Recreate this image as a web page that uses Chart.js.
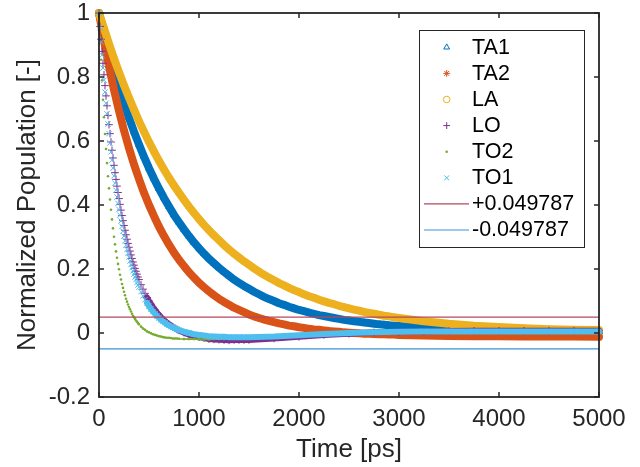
<!DOCTYPE html>
<html>
<head>
<meta charset="utf-8">
<script src="https://cdn.jsdelivr.net/npm/chart.js@4.4.1/dist/chart.umd.min.js"></script>
<style>
  html, body { margin: 0; padding: 0; background: #fff; }
  canvas { display: block; }
</style>
</head>
<body>
<canvas id="population" width="640" height="467"></canvas>
<script>
// time axis for the slow acoustic branches (ps)
const slowTimePs = [0,50,100,150,200,250,300,350,400,450,
  500,550,600,650,700,750,800,850,900,950,
  1000,1050,1100,1150,1200,1250,1300,1350,1400,1450,
  1500,1550,1600,1650,1700,1750,1800,1850,1900,1950,
  2000,2050,2100,2150,2200,2250,2300,2350,2400,2450,
  2500,2550,2600,2650,2700,2750,2800,2850,2900,2950,
  3000,3250,3500,3750,4000,4250,4500,4750,5000];

const ta1Pop = [1.000,0.939,0.878,0.822,0.769,0.719,0.672,0.629,0.589,0.551,
  0.515,0.482,0.451,0.422,0.395,0.369,0.346,0.324,0.303,0.283,
  0.265,0.248,0.232,0.218,0.204,0.191,0.179,0.167,0.157,0.147,
  0.138,0.129,0.121,0.113,0.106,0.100,0.093,0.088,0.082,0.077,
  0.072,0.068,0.064,0.060,0.056,0.053,0.050,0.047,0.044,0.041,
  0.039,0.037,0.035,0.033,0.031,0.029,0.027,0.026,0.024,0.023,
  0.022,0.017,0.013,0.011,0.009,0.007,0.006,0.006,0.005];

const ta2Pop = [1.000,0.913,0.833,0.760,0.694,0.633,0.578,0.527,0.481,0.438,
  0.400,0.365,0.332,0.303,0.276,0.251,0.229,0.209,0.190,0.173,
  0.157,0.143,0.130,0.118,0.107,0.097,0.088,0.079,0.072,0.065,
  0.058,0.052,0.047,0.042,0.038,0.034,0.030,0.027,0.023,0.021,
  0.018,0.016,0.013,0.011,0.010,0.008,0.006,0.005,0.004,0.002,
  0.001,0.000,-0.001,-0.002,-0.002,-0.003,-0.004,-0.004,-0.005,-0.005,
  -0.006,-0.008,-0.009,-0.010,-0.010,-0.011,-0.011,-0.011,-0.012];

const laPop = [1.000,0.952,0.904,0.858,0.815,0.774,0.735,0.698,0.662,0.629,
  0.597,0.567,0.538,0.511,0.485,0.461,0.438,0.416,0.395,0.375,
  0.356,0.338,0.321,0.305,0.290,0.275,0.261,0.248,0.236,0.224,
  0.213,0.202,0.192,0.182,0.173,0.165,0.156,0.149,0.141,0.134,
  0.128,0.121,0.115,0.110,0.104,0.099,0.094,0.090,0.085,0.081,
  0.077,0.073,0.070,0.066,0.063,0.060,0.057,0.054,0.052,0.049,
  0.047,0.037,0.029,0.023,0.019,0.015,0.012,0.010,0.009];

// time axis for the fast optical branches (ps)
const fastTimePs = [0,10,20,30,40,50,60,70,80,90,
  100,110,120,130,140,150,160,170,180,190,
  200,210,220,230,240,250,260,270,280,290,
  300,310,320,330,340,350,360,370,380,390,
  400,420,440,460,480,500,520,540,560,580,
  600,620,640,660,680,700,720,740,760,780,
  800,850,900,950,1000,1050,1100,1150,1200,1250,
  1300,1350,1400,1450,1500,1750,2000,2250,2500,2750,
  3000,3250,3500,3750,4000,4250,4500,4750,5000];

const loPop = [1.000,0.958,0.918,0.880,0.843,0.807,0.773,0.741,0.710,0.680,
  0.651,0.623,0.597,0.571,0.547,0.524,0.501,0.480,0.459,0.439,
  0.420,0.402,0.384,0.367,0.351,0.336,0.321,0.307,0.293,0.280,
  0.268,0.256,0.244,0.233,0.222,0.212,0.202,0.193,0.184,0.175,
  0.167,0.151,0.137,0.124,0.111,0.100,0.090,0.080,0.072,0.064,
  0.056,0.049,0.043,0.037,0.032,0.027,0.023,0.018,0.015,0.011,
  0.008,0.001,-0.005,-0.010,-0.013,-0.016,-0.019,-0.020,-0.021,-0.022,
  -0.023,-0.022,-0.022,-0.022,-0.022,-0.017,-0.012,-0.006,-0.002,0.002,
  0.004,0.005,0.006,0.007,0.007,0.007,0.007,0.007,0.007];

const to2Pop = [1.000,0.924,0.854,0.790,0.729,0.674,0.622,0.575,0.531,0.490,
  0.452,0.417,0.385,0.355,0.327,0.301,0.277,0.255,0.235,0.216,
  0.199,0.182,0.167,0.153,0.141,0.129,0.118,0.107,0.098,0.089,
  0.081,0.074,0.067,0.060,0.054,0.049,0.044,0.039,0.035,0.031,
  0.027,0.020,0.014,0.010,0.005,0.002,-0.001,-0.004,-0.006,-0.008,
  -0.010,-0.011,-0.013,-0.014,-0.015,-0.015,-0.016,-0.017,-0.017,-0.017,
  -0.018,-0.019,-0.019,-0.019,-0.020,-0.020,-0.020,-0.019,-0.019,-0.019,
  -0.018,-0.018,-0.017,-0.017,-0.016,-0.012,-0.008,-0.004,-0.001,0.001,
  0.003,0.004,0.004,0.004,0.004,0.004,0.004,0.004,0.004];

const to1Pop = [1.000,0.954,0.910,0.868,0.828,0.790,0.753,0.718,0.685,0.653,
  0.623,0.594,0.566,0.540,0.515,0.491,0.468,0.446,0.425,0.405,
  0.386,0.368,0.350,0.333,0.318,0.303,0.288,0.274,0.261,0.249,
  0.237,0.225,0.214,0.204,0.194,0.184,0.175,0.167,0.158,0.150,
  0.143,0.129,0.116,0.104,0.094,0.084,0.075,0.067,0.060,0.053,
  0.047,0.041,0.036,0.032,0.027,0.024,0.020,0.017,0.014,0.011,
  0.009,0.004,0.000,-0.004,-0.006,-0.008,-0.010,-0.011,-0.012,-0.012,
  -0.013,-0.013,-0.013,-0.013,-0.013,-0.011,-0.007,-0.003,0.000,0.002,
  0.004,0.005,0.005,0.005,0.005,0.005,0.005,0.005,0.005];

const thresholdLevels = [0.049787, -0.049787];
const thresholdLabels = ['+0.049787', '-0.049787'];
const timeRange = [0, 5000];

const fontFamily = '"Liberation Sans", Arial, Helvetica, sans-serif';
const axisColor = '#262626';

// marker styling per branch (plotted in MATLAB order, last one on top)
const branches = [
  { label: 'TA1', time: slowTimePs, pop: ta1Pop, color: '#0072BD', style: 'triangle', r: 3.8, band: 8, bandFrom: 0 },
  { label: 'TA2', time: slowTimePs, pop: ta2Pop, color: '#D95319', style: 'star', r: 3.4, band: 8, bandFrom: 0 },
  { label: 'LA', time: slowTimePs, pop: laPop, color: '#EDB120', style: 'circle', r: 3.3, band: 8, bandFrom: 0 },
  { label: 'LO', time: fastTimePs, pop: loPop, color: '#7E2F8E', style: 'cross', r: 3.8, band: 6, bandFrom: 480 },
  { label: 'TO2', time: fastTimePs, pop: to2Pop, color: '#77AC30', style: 'dot', r: 1.3, band: 1.6, bandFrom: 420 },
  { label: 'TO1', time: fastTimePs, pop: to1Pop, color: '#4DBEEE', style: 'crossRot', r: 3.8, band: 6, bandFrom: 480 }
];
const thresholdColors = ['#B5475F', '#3A93D6'];

const datasets = [];
branches.forEach((b, i) => {
  const isDot = b.style === 'dot';
  datasets.push({
    label: b.label,
    data: b.time.map((t, k) => ({ x: t, y: b.pop[k] })),
    showLine: true,
    borderColor: b.color,
    borderWidth: b.band,
    borderCapStyle: 'round',
    borderJoinStyle: 'round',
    segment: {
      borderColor: c => c.p0.parsed.x >= b.bandFrom ? b.color : 'rgba(0,0,0,0)'
    },
    pointStyle: isDot ? 'circle' : b.style,
    pointRadius: b.r,
    pointBorderWidth: isDot ? 0 : 1,
    pointBorderColor: b.color,
    pointBackgroundColor: isDot ? b.color : 'rgba(0,0,0,0)',
    order: 10 - i,
    clip: 6
  });
});
thresholdLevels.forEach((lvl, i) => {
  datasets.push({
    label: thresholdLabels[i],
    isThreshold: true,
    data: timeRange.map(t => ({ x: t, y: lvl })),
    showLine: true,
    borderColor: thresholdColors[i],
    borderWidth: 1.2,
    pointRadius: 0,
    order: 2 - i
  });
});

// MATLAB style box with inward ticks
const boxPlugin = {
  id: 'matlabBox',
  afterDatasetsDraw(chart) {
    const { ctx, chartArea: a, scales } = chart;
    ctx.save();
    ctx.strokeStyle = axisColor;
    ctx.lineWidth = 1.8;
    ctx.strokeRect(a.left, a.top, a.right - a.left, a.bottom - a.top);
    ctx.lineWidth = 1.5;
    ctx.beginPath();
    scales.x.ticks.forEach(t => {
      const px = scales.x.getPixelForValue(t.value);
      ctx.moveTo(px, a.bottom); ctx.lineTo(px, a.bottom - 5);
      ctx.moveTo(px, a.top); ctx.lineTo(px, a.top + 5);
    });
    scales.y.ticks.forEach(t => {
      const py = scales.y.getPixelForValue(t.value);
      ctx.moveTo(a.left, py); ctx.lineTo(a.left + 5, py);
      ctx.moveTo(a.right, py); ctx.lineTo(a.right - 5, py);
    });
    ctx.stroke();
    ctx.restore();
  }
};

const legendPlugin = {
  id: 'insideLegend',
  afterDatasetsDraw(chart) {
    const { ctx, chartArea: a } = chart;
    const left = a.right - 180, top = a.top + 17, w = 165, h = 217;
    ctx.save();
    ctx.fillStyle = '#fff';
    ctx.fillRect(left, top, w, h);
    ctx.strokeStyle = axisColor;
    ctx.lineWidth = 1;
    ctx.strokeRect(left + 0.5, top + 0.5, w, h);
    ctx.font = '21.5px ' + fontFamily;
    ctx.textBaseline = 'middle';
    ctx.textAlign = 'left';
    chart.data.datasets.forEach((ds, i) => {
      const cy = top + 17.3 + i * 26.1;
      if (ds.isThreshold) {
        ctx.strokeStyle = ds.borderColor;
        ctx.lineWidth = 1.2;
        ctx.beginPath();
        ctx.moveTo(left + 5, cy);
        ctx.lineTo(left + 50, cy);
        ctx.stroke();
      } else {
        ctx.strokeStyle = ds.pointBorderColor;
        ctx.fillStyle = ds.pointBackgroundColor;
        ctx.lineWidth = ds.pointBorderWidth;
        Chart.helpers.drawPoint(ctx, {
          pointStyle: ds.pointStyle,
          radius: Math.min(ds.pointRadius, 3.4),
          borderWidth: ds.pointBorderWidth,
          rotation: 0
        }, left + 27.7, cy);
      }
      ctx.fillStyle = '#000';
      ctx.fillText(ds.label, left + 53, cy + 0.5);
    });
    ctx.restore();
  }
};

Chart.defaults.font.family = fontFamily;
Chart.defaults.color = axisColor;

new Chart(document.getElementById('population'), {
  type: 'scatter',
  data: { datasets: datasets },
  options: {
    responsive: false,
    animation: false,
    devicePixelRatio: 1,
    layout: { autoPadding: false, padding: { top: 13, right: 41, left: 0, bottom: 0 } },
    plugins: {
      legend: { display: false },
      tooltip: { enabled: false }
    },
    scales: {
      x: {
        type: 'linear',
        min: timeRange[0],
        max: timeRange[1],
        grid: { display: false, drawTicks: false },
        border: { display: false },
        ticks: { stepSize: 1000, padding: 8, maxRotation: 0, font: { size: 24 }, color: axisColor, callback: v => String(v) },
        title: { display: true, text: 'Time [ps]', font: { size: 26 }, color: axisColor, padding: { top: 2, bottom: 2 } },
        afterFit: s => { s.height = 70; s.paddingLeft = 0; s.paddingRight = 0; }
      },
      y: {
        type: 'linear',
        min: -0.2,
        max: 1,
        grid: { display: false, drawTicks: false },
        border: { display: false },
        ticks: {
          stepSize: 0.2,
          padding: 9,
          font: { size: 24 },
          color: axisColor,
          callback: v => String(Number(v.toFixed(1)))
        },
        title: { display: true, text: 'Normalized Population [-]', font: { size: 26 }, color: axisColor, padding: { top: 12, bottom: 2 } },
        afterFit: s => { s.width = 99; s.paddingTop = 0; s.paddingBottom = 0; }
      }
    }
  },
  plugins: [boxPlugin, legendPlugin]
});
</script>
</body>
</html>
